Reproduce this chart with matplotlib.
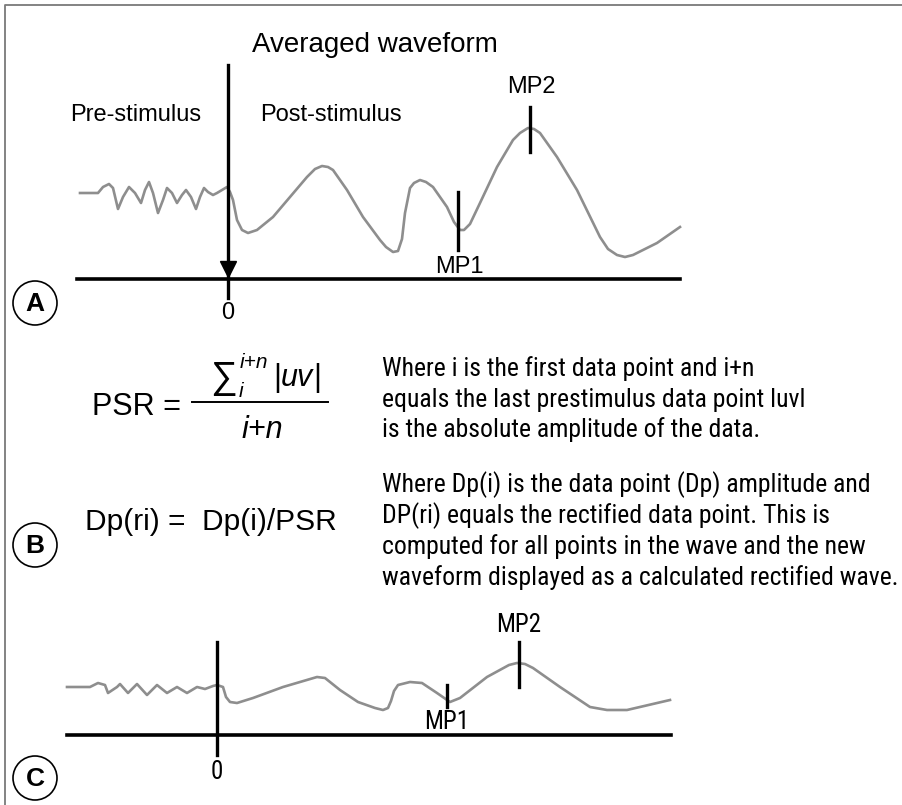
import numpy as np
import matplotlib.pyplot as plt
from matplotlib import font_manager
from matplotlib.patches import Circle

# panel A: averaged waveform (time relative to stimulus, amplitude above baseline)
pre_a_t = [-148, -130, -125, -119, -115, -110, -105, -99, -93, -87, -83, -79, -75, -70,
           -65, -61, -56, -51, -46, -42, -37, -32, -28, -24, -20, -15, -11, -6, -1]
pre_a_v = [86, 86, 92, 95, 91, 70, 82, 92, 86, 76, 89, 97, 86, 66,
           79, 91, 86, 76, 84, 89, 82, 70, 82, 91, 87, 84, 86, 89, 92]
post_a_t = [2, 5, 9, 14, 20, 29, 45, 62, 79, 87, 94, 100, 105, 119, 135, 152, 158, 165,
            170, 174, 177, 182, 186, 192, 198, 205, 219, 226, 232, 236, 242, 252, 269,
            285, 292, 300, 306, 312, 329, 349, 372, 380, 389, 397, 405, 415, 429, 452]
post_a_v = [87, 79, 59, 49, 46, 49, 62, 82, 102, 110, 113, 112, 109, 89, 62, 39, 32, 27,
            28, 40, 66, 91, 96, 99, 97, 92, 72, 57, 49, 49, 55, 76, 112,
            139, 146, 151, 150, 146, 122, 89, 42, 30, 24, 22, 24, 29, 36, 52]

# panel C: rectified waveform
pre_c_t = [-150, -127, -119, -112, -109, -100, -97, -89, -80, -70, -60, -50, -40, -30,
           -20, -12, -4, 0]
pre_c_v = [48, 48, 52, 50, 42, 48, 51, 42, 51, 40, 50, 42, 48, 42, 48, 46, 49, 50]
post_c_t = [6, 9, 13, 20, 36, 66, 100, 108, 123, 141, 158, 166, 171, 174, 177, 181, 193,
            205, 220, 233, 243, 270, 292, 300, 308, 316, 343, 373, 390, 410, 453]
post_c_v = [48, 38, 33, 32, 37, 48, 58, 57, 45, 33, 27, 25, 27, 34, 44, 50, 53,
            52, 42, 33, 37, 58, 70, 72, 71, 67, 48, 28, 25, 25, 35]

# marker points: (time, low, high)
mp_a = {'MP1': (230, 29, 87), 'MP2': (302, 127, 172)}
mp_c = {'MP1': (230, 28, 50), 'MP2': (302, 48, 93)}

panel_letters = ['A', 'B', 'C']

text_block1 = ['Where i is the first data point and i+n',
               'equals the last prestimulus data point luvl',
               'is the absolute amplitude of the data.']
text_block2 = ['Where Dp(i) is the data point (Dp) amplitude and',
               'DP(ri) equals the rectified data point. This is',
               'computed for all points in the wave and the new',
               'waveform displayed as a calculated rectified wave.']

W, H = 903, 805
installed = {f.name for f in font_manager.fontManager.ttflist}
main_font = 'Liberation Sans' if 'Liberation Sans' in installed else 'DejaVu Sans'
narrow_font = main_font
for cand in ['Liberation Sans Narrow', 'Roboto Condensed', 'Roboto']:
    if cand in installed:
        narrow_font = cand
        break
plt.rcParams['font.family'] = [main_font, 'DejaVu Sans']

wave_col = '#8e8e8e'
fig = plt.figure(figsize=(W / 100, H / 100), dpi=100)

# full-figure axes in pixel units for frame, formulas and circles
ax = fig.add_axes([0, 0, 1, 1])
ax.set_xlim(0, W)
ax.set_ylim(H, 0)
ax.axis('off')
ax.plot([5, 5, W], [H, 5, 5], color='#7a7a7a', lw=1.3, solid_capstyle='butt')


def panel_axes(y_top, y_bot, zero_x, base_y):
    a = fig.add_axes([0, 1 - y_bot / H, 1, (y_bot - y_top) / H])
    a.set_xlim(-zero_x, W - zero_x)
    a.set_ylim(base_y - y_bot, base_y - y_top)
    a.axis('off')
    a.patch.set_alpha(0)
    return a


# ---- panel A
axa = panel_axes(0, 330, 228, 279)
axa.plot(pre_a_t + post_a_t, pre_a_v + post_a_v, color=wave_col, lw=1.9,
         solid_joinstyle='round')
axa.plot([-151, 452], [0, 0], color='black', lw=2.6)
axa.plot([0, 0], [214, -19], color='black', lw=2.4)
axa.plot([0], [10], marker='v', color='black', markersize=11)
for name, (t, lo, hi) in mp_a.items():
    axa.plot([t, t], [lo, hi], color='black', lw=2.4)
axa.text(303, 192, 'MP2', ha='center', va='center', fontsize=17)
axa.text(231, 12, 'MP1', ha='center', va='center', fontsize=17)
axa.text(0, -34, '0', ha='center', va='center', fontsize=17)
axa.text(147, 234, 'Averaged waveform', ha='center', va='center', fontsize=20)
axa.text(-92, 164, 'Pre-stimulus', ha='center', va='center', fontsize=17)
axa.text(103, 164, 'Post-stimulus', ha='center', va='center', fontsize=17)

# ---- panel C
axc = panel_axes(560, H, 217, 735)
axc.plot(pre_c_t + post_c_t, pre_c_v + post_c_v, color=wave_col, lw=1.9,
         solid_joinstyle='round')
axc.plot([-150, 454], [0, 0], color='black', lw=2.6)
axc.plot([0, 0], [93, -20], color='black', lw=2.4)
for name, (t, lo, hi) in mp_c.items():
    axc.plot([t, t], [lo, hi], color='black', lw=2.4)
axc.text(302, 110, 'MP2', ha='center', va='center', fontsize=18, family=narrow_font)
axc.text(230, 13, 'MP1', ha='center', va='center', fontsize=18, family=narrow_font)
axc.text(0, -37, '0', ha='center', va='center', fontsize=18, family=narrow_font)

# ---- panel B: formulas
ax.text(92, 407, 'PSR =', ha='left', va='center', fontsize=22)
ax.plot([192, 328], [402, 402], color='black', lw=1.4)
ax.text(224, 378, '\u2211', ha='center', va='center', fontsize=27)
ax.text(240, 362, 'i+n', ha='left', va='center', fontsize=15, style='italic')
ax.text(239, 391, 'i', ha='left', va='center', fontsize=15, style='italic')
ax.text(273, 378, '|', ha='left', va='center', fontsize=22)
ax.text(281, 378, 'uv', ha='left', va='center', fontsize=22, style='italic')
ax.text(313, 378, '|', ha='left', va='center', fontsize=22)
ax.text(262, 430, 'i+n', ha='center', va='center', fontsize=22, style='italic')
ax.text(85, 522, 'Dp(ri) =  Dp(i)/PSR', ha='left', va='center', fontsize=21.5)

lines = []
for i, line in enumerate(text_block1):
    lines.append(ax.text(382, 369 + 30.5 * i, line, ha='left', va='center',
                         fontsize=18, family=narrow_font))
for i, line in enumerate(text_block2):
    lines.append(ax.text(382, 485 + 31 * i, line, ha='left', va='center',
                         fontsize=18, family=narrow_font))

# fit the longest description line to the width it has in the reference
fig.canvas.draw()
renderer = fig.canvas.get_renderer()
widest = max(t.get_window_extent(renderer=renderer).width for t in lines)
fit_size = 18 * (W - 3 - 382) / widest
for t in lines:
    t.set_fontsize(fit_size)

# panel letters in circles
for letter, cy in zip(panel_letters, [303, 545, 778]):
    ax.add_patch(Circle((35, cy), 22, fill=False, ec='black', lw=1.2))
    ax.text(35, cy + 1, letter, ha='center', va='center', fontsize=19, fontweight='bold')

fig.savefig('out.png', dpi=100)
